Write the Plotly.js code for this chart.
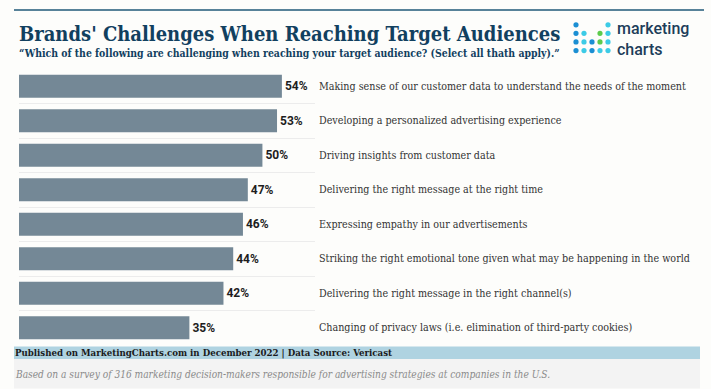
<!DOCTYPE html>
<html>
<head>
<meta charset="utf-8">
<script src="https://cdn.plot.ly/plotly-3.0.1.min.js"></script>
<style>
html,body{margin:0;padding:0;background:#fdfdfb;}
#chart{width:711px;height:389px;}
</style>
</head>
<body>
<div id="chart"></div>
<script>
// ---- data ----
const categories = [
  "Making sense of our customer data to understand the needs of the moment",
  "Developing a personalized advertising experience",
  "Driving insights from customer data",
  "Delivering the right message at the right time",
  "Expressing empathy in our advertisements",
  "Striking the right emotional tone given what may be happening in the world",
  "Delivering the right message in the right channel(s)",
  "Changing of privacy laws (i.e. elimination of third-party cookies)"
];
const values = [54, 53, 50, 47, 46, 44, 42, 35];

const titleText = "Brands' Challenges When Reaching Target Audiences";
const subtitleText = "\u201CWhich of the following are challenging when reaching your target audience? (Select all thath apply).\u201D";
const sourceText = "Published on MarketingCharts.com in December 2022 | Data Source: Vericast";
const noteText = "Based on a survey of 316 marketing decision-makers responsible for advertising strategies at companies in the U.S.";
const logoText = "marketing<br>charts";

// ---- layout geometry ----
const WIDTH = 711, HEIGHT = 389;
const L = 19, R = 396, T = 69, B = 43.5;
const PW = WIDTH - L - R, PH = HEIGHT - T - B;
const px = x => (x - L) / PW;
const py = y => 1 - (y - T) / PH;

const navy = "#11405f";
const serif = "DejaVu Serif Condensed, Liberation Serif, serif";

const shapes = [];
const annotations = [];

// top rule
shapes.push({type:"line", xref:"paper", yref:"paper", x0:px(14), x1:px(704), y0:py(10), y1:py(10),
  line:{color:"#1f5878", width:1.5}});
// footer bands
shapes.push({type:"rect", xref:"paper", yref:"paper", x0:px(14), x1:px(700), y0:py(347), y1:py(359.5),
  fillcolor:"#afd3e1", line:{width:0}, layer:"below"});
shapes.push({type:"rect", xref:"paper", yref:"paper", x0:px(14), x1:px(700), y0:py(359.5), y1:py(389),
  fillcolor:"#f3f3f3", line:{width:0}, layer:"below"});

// logo dots
const dotBlue = "#1b8fd3", dotCyan = "#3ccbe6", dotGreen = "#5ccb4c";
const logoGrid = [
  [dotBlue, null, null, null, dotCyan],
  [dotBlue, dotCyan, null, dotGreen, dotCyan],
  [dotBlue, dotCyan, dotBlue, dotGreen, dotCyan],
  [dotBlue, dotCyan, dotBlue, dotCyan, dotCyan]
];
logoGrid.forEach((row, r) => row.forEach((c, k) => {
  if (!c) return;
  const cx = 576 + k * 8, cy = 24.7 + r * 8.6, rad = 2.6;
  shapes.push({type:"circle", xref:"paper", yref:"paper",
    x0:px(cx - rad), x1:px(cx + rad), y0:py(cy + rad), y1:py(cy - rad),
    fillcolor:c, line:{width:0}});
}));

function ann(text, x, y, font, extra) {
  annotations.push(Object.assign({text, xref:"paper", yref:"paper", x:px(x), y:py(y),
    xanchor:"left", yanchor:"middle", showarrow:false, font}, extra || {}));
}
ann("<b>" + titleText + "</b>", 17, 33.5, {family: serif, size: 20, color: navy});
ann("<b>" + subtitleText + "</b>", 17, 52.5, {family: serif, size: 10.4, color: navy});
ann(logoText, 615, 38.5, {family: "Roboto, sans-serif", size: 16, color: "#1d3d5a", weight: 500}, {align: "left"});
ann("<b>" + sourceText + "</b>", 13, 353.5, {family: serif, size: 9.6, color: "#1a1a1a"});
ann("<i>" + noteText + "</i>", 13, 375, {family: serif, size: 10.1, color: "#8a8a8a"});

const trace = {
  type: "bar",
  orientation: "h",
  x: values,
  y: categories,
  marker: {color: "#748896", line: {width: 0}},
  text: values.map(v => v + "%"),
  textposition: "outside",
  textfont: {family: "Roboto, sans-serif", size: 12, color: "#1e1e1e", weight: "bold"},
  cliponaxis: false,
  hoverinfo: "skip"
};

const layout = {
  width: WIDTH, height: HEIGHT,
  margin: {l: L, r: R, t: T, b: B, pad: 0},
  paper_bgcolor: "#fdfdfb",
  plot_bgcolor: "#fdfdfb",
  showlegend: false,
  bargap: 0.335,
  xaxis: {range: [0, 60.8], showgrid: false, zeroline: false, showticklabels: false, ticks: "", showline: false, fixedrange: true},
  yaxis: {
    type: "category", autorange: "reversed", side: "right",
    tickson: "boundaries", showgrid: true, gridcolor: "#ececec", gridwidth: 1,
    ticks: "", showline: false, zeroline: false, ticklabelstandoff: 3,
    tickfont: {family: serif, size: 10.65, color: "#333333"}
  },
  shapes, annotations
};

Plotly.newPlot("chart", [trace], layout, {displayModeBar: false, staticPlot: true});
</script>
</body>
</html>
